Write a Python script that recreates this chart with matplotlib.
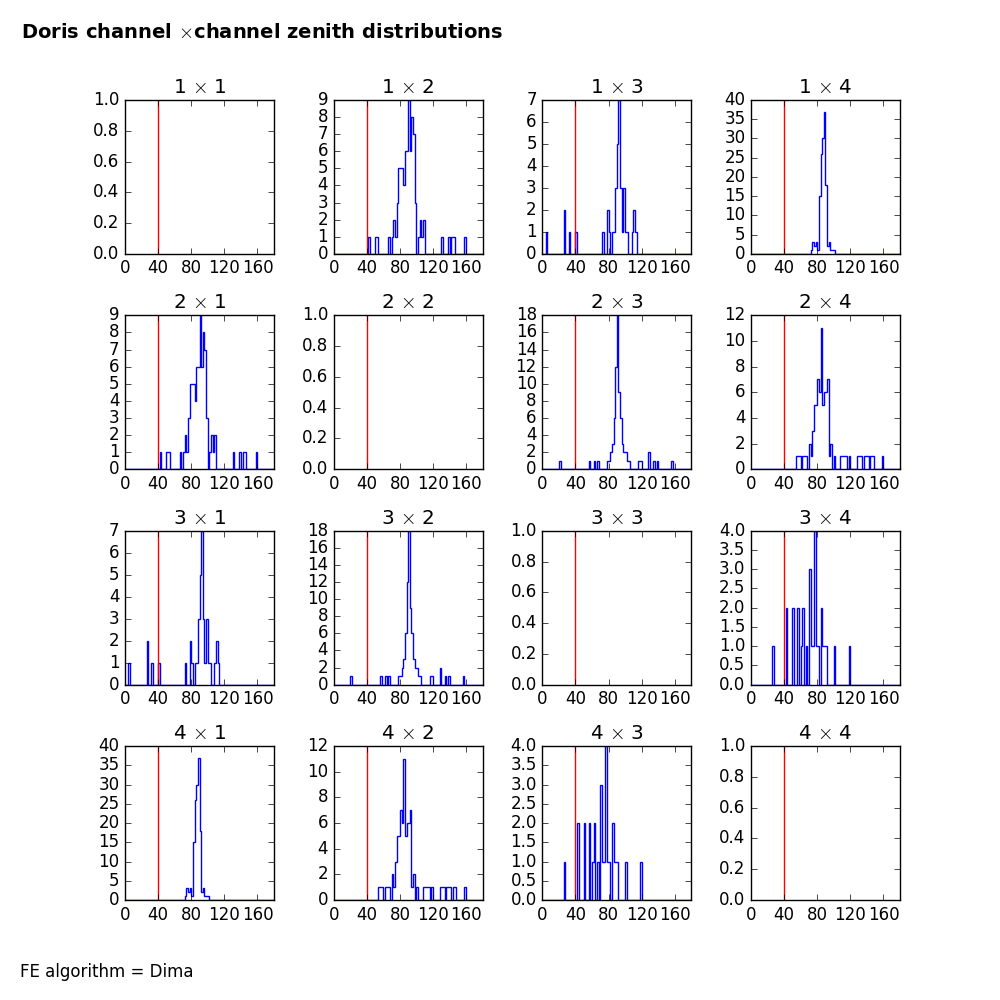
import matplotlib
matplotlib.use("Agg")
import matplotlib.pyplot as plt
import numpy as np

plt.style.use('classic')

channels = [1, 2, 3, 4]
cut_angle = 40
bin_edges = np.arange(0, 182, 2)

# zenith bins (left edge, deg) and counts for each channel pair
pair12_bins = [42, 50, 52, 66, 70, 72, 74, 76, 78, 80, 82, 84, 86, 88, 90, 92, 94, 96, 98,
               102, 104, 106, 108, 130, 138, 142, 144, 158]
pair12_counts = [1, 1, 1, 1, 1, 2, 1, 3, 5, 5, 5, 4, 6, 6, 9, 6, 8, 7, 3,
                 1, 2, 1, 2, 1, 1, 1, 1, 1]

pair13_bins = [4, 26, 32, 40, 72, 78, 80, 84, 86, 88, 90, 92, 94, 96, 98, 100, 102, 108, 110, 112]
pair13_counts = [1, 2, 1, 1, 1, 2, 1, 1, 1, 3, 5, 7, 3, 1, 3, 1, 1, 1, 2, 1]

pair14_bins = [72, 74, 76, 78, 80, 82, 84, 86, 88, 90, 92, 94, 96, 98, 100]
pair14_counts = [1, 3, 2, 3, 1, 15, 26, 30, 37, 18, 2, 3, 1, 1, 1]

pair23_bins = [20, 56, 62, 66, 78, 80, 82, 84, 86, 88, 90, 92, 94, 96, 98, 100, 102, 104,
               116, 118, 128, 134, 138, 156]
pair23_counts = [1, 1, 1, 1, 1, 1, 2, 3, 6, 12, 18, 9, 6, 3, 2, 2, 1, 1,
                 1, 1, 2, 1, 1, 1]

pair24_bins = [54, 56, 58, 62, 64, 66, 70, 72, 74, 76, 78, 80, 82, 84, 86, 88, 90, 92, 94, 96,
               100, 108, 110, 112, 114, 118, 128, 130, 132, 136, 138, 140, 144, 146, 158]
pair24_counts = [1, 1, 1, 1, 1, 1, 2, 1, 3, 5, 5, 7, 6, 11, 5, 6, 6, 7, 1, 2,
                 1, 1, 1, 1, 1, 1, 1, 1, 1, 1, 1, 1, 1, 1, 1]

pair34_bins = [26, 42, 50, 56, 60, 62, 66, 70, 72, 74, 76, 78, 80, 84, 86, 88, 90, 100, 118]
pair34_counts = [1, 2, 2, 2, 1, 2, 1, 3, 1, 1, 4, 1, 1, 2, 1, 1, 1, 1, 1]

pairs = {
    (1, 2): (pair12_bins, pair12_counts),
    (1, 3): (pair13_bins, pair13_counts),
    (1, 4): (pair14_bins, pair14_counts),
    (2, 3): (pair23_bins, pair23_counts),
    (2, 4): (pair24_bins, pair24_counts),
    (3, 4): (pair34_bins, pair34_counts),
}

fig, axes = plt.subplots(4, 4, figsize=(10, 10))
fig.patch.set_facecolor('white')
fig.subplots_adjust(left=0.125, right=0.9, bottom=0.1, top=0.9, wspace=0.4, hspace=0.4)

for i, a in enumerate(channels):
    for j, b in enumerate(channels):
        ax = axes[i, j]
        key = (min(a, b), max(a, b))
        if key in pairs:
            bins, counts = pairs[key]
            ax.hist(np.array(bins) + 1, bins=bin_edges, weights=counts,
                    histtype='step', color='b')
        ax.axvline(cut_angle, color='r')
        ax.set_xlim(0, 180)
        ax.set_xticks([0, 40, 80, 120, 160])
        ax.set_title(r"%d $\times$ %d" % (a, b))

fig.text(0.021, 0.977, r"Doris channel $\times$channel zenith distributions",
         fontsize=14, weight='bold', va='top', ha='left')
fig.text(0.02, 0.028, "FE algorithm = Dima", fontsize=12, va='center', ha='left')

fig.savefig("out.png", dpi=100, facecolor='white')
